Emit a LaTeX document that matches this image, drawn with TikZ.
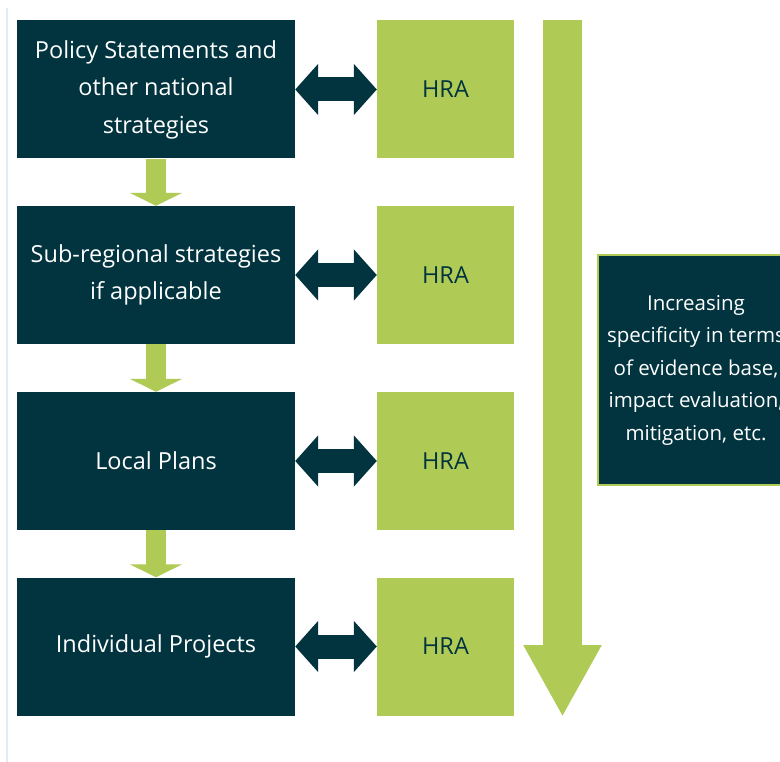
\documentclass[tikz,border=0pt]{standalone}
\usepackage{fontspec}
\setmainfont{Open Sans}
\usetikzlibrary{arrows.meta,calc}
\definecolor{darkteal}{HTML}{02343F}
\definecolor{leaf}{HTML}{AFCB55}
\definecolor{faint}{HTML}{E2EBF4}
\tikzset{
  darkbox/.style={fill=darkteal, text=white, minimum width=278pt, minimum height=138pt, inner sep=0pt, align=center, font=\fontsize{23.5}{37.5}\selectfont},
  hrabox/.style={fill=leaf, text=darkteal, minimum width=137pt, minimum height=138pt, inner sep=0pt, font=\fontsize{23.5}{26}\selectfont},
  dblarrow/.style={draw=darkteal, line width=24pt, {Triangle[length=23pt,width=50pt]}-{Triangle[length=23pt,width=50pt]}},
  downarrow/.style={draw=leaf, line width=20pt, -{Triangle[length=13pt,width=52pt]}},
  bigarrow/.style={draw=leaf, line width=39pt, -{Triangle[length=72pt,width=73pt]}},
  sidebox/.style={fill=darkteal, draw=leaf, line width=2pt, text=white, minimum width=196pt, minimum height=230pt, inner sep=0pt, align=center, font=\fontsize{20.5}{32.5}\selectfont}
}
\begin{document}
\begin{tikzpicture}[x=1pt,y=-1pt]
\useasboundingbox (0,0) rectangle (780,762);
\clip (0,0) rectangle (780,762);
\fill[white] (0,0) rectangle (780,762);
\draw[faint, line width=1.5pt] (7,8) -- (7,762);
\node[darkbox] (p1) at (156,89.5) {Policy Statements and\\other national\\strategies};
\node[darkbox] (p2) at (156,275) {Sub-regional strategies\\if applicable};
\node[darkbox] (p3) at (156,461) {Local Plans};
\node[darkbox] (p4) at (156,646.5) {Individual Projects};
\node[hrabox] (h1) at (445.5,89.5) {HRA};
\node[hrabox] (h2) at (445.5,275) {HRA};
\node[hrabox] (h3) at (445.5,461) {HRA};
\node[hrabox] (h4) at (445.5,646.5) {HRA};
\draw[dblarrow] (p1.east) -- (h1.west);
\draw[dblarrow] (p2.east) -- (h2.west);
\draw[dblarrow] (p3.east) -- (h3.west);
\draw[dblarrow] (p4.east) -- (h4.west);
\draw[downarrow] (p1.south) -- (p2.north);
\draw[downarrow] (p2.south) -- (p3.north);
\draw[downarrow] (p3.south) -- (p4.north);
\coordinate (bigtop) at (562.5,20);
\coordinate (bigtip) at (562.5,717);
\draw[bigarrow] (bigtop) -- (bigtip);
\node[sidebox] (side) at (696,370) {Increasing\\specificity in terms\\of evidence base,\\impact evaluation,\\mitigation, etc.};
\end{tikzpicture}
\end{document}
